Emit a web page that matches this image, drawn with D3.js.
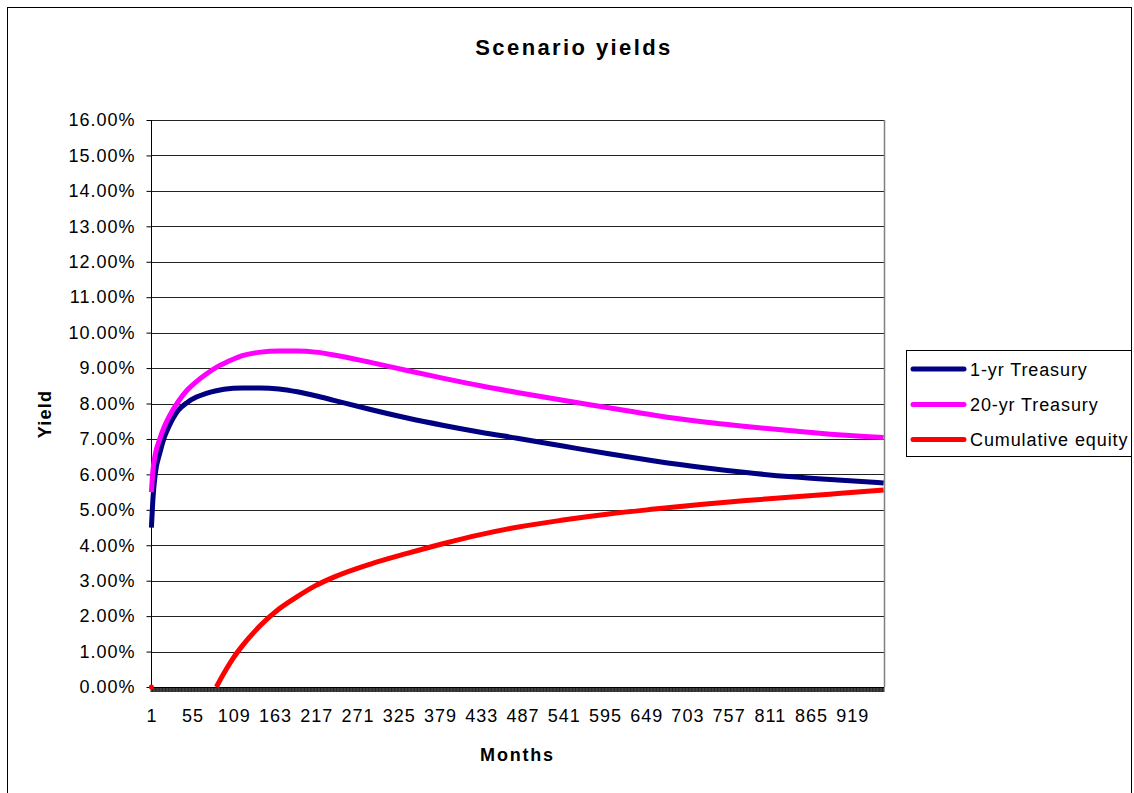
<!DOCTYPE html>
<html>
<head>
<meta charset="utf-8">
<script src="https://cdn.jsdelivr.net/npm/d3@7"></script>
<style>
  html, body { margin: 0; padding: 0; background: #fff; }
  svg { display: block; font-family: "Liberation Sans", Arial, sans-serif; }
</style>
</head>
<body>
<svg id="chart" width="1134" height="793"></svg>
<script>
// Sampled months of the 80-year scenario
const months = [1, 3, 6, 12, 18, 24, 36, 48, 60, 72, 86, 96, 108, 120, 144, 168, 192, 216, 240, 288, 336, 384, 432, 480, 540, 600, 660, 720, 780, 840, 900, 960];

// Yields in percent at each sampled month
const oneYrTreasury = [4.50, 5.30, 6.00, 6.60, 7.05, 7.35, 7.80, 8.03, 8.18, 8.28, 8.36, 8.40, 8.43, 8.44, 8.44, 8.41, 8.33, 8.22, 8.09, 7.83, 7.59, 7.38, 7.19, 7.02, 6.80, 6.58, 6.38, 6.20, 6.05, 5.93, 5.84, 5.76];
const twentyYrTreasury = [5.50, 6.10, 6.55, 7.00, 7.35, 7.62, 8.05, 8.38, 8.62, 8.82, 9.02, 9.13, 9.25, 9.35, 9.45, 9.48, 9.48, 9.45, 9.37, 9.16, 8.93, 8.71, 8.50, 8.31, 8.09, 7.88, 7.67, 7.49, 7.35, 7.23, 7.12, 7.04];
const cumulativeEquity = [0, null, null, null, null, null, null, null, null, null, 0, 0.39, 0.81, 1.16, 1.74, 2.20, 2.55, 2.86, 3.10, 3.47, 3.77, 4.05, 4.30, 4.51, 4.71, 4.88, 5.02, 5.15, 5.26, 5.36, 5.46, 5.56];

const seriesNames = ["1-yr Treasury", "20-yr Treasury", "Cumulative equity"];
const seriesColors = ["#000080", "#FF00FF", "#FF0000"];
const seriesValues = [oneYrTreasury, twentyYrTreasury, cumulativeEquity];

// Axis labels
const monthCount = 960;
const xTickLabels = d3.range(1, monthCount, 54);   // 1, 55, 109 ... 919
const yTicks = d3.range(0, 16.01, 1);

const chartTitle = "Scenario yields";
const xTitle = "Months";
const yTitle = "Yield";

const svg = d3.select("#chart");

// Outer chart frame
svg.append("rect")
  .attr("x", 7.5).attr("y", 7.5)
  .attr("width", 1124).attr("height", 820)
  .attr("fill", "#fff").attr("stroke", "#000").attr("stroke-width", 1);

const plot = { left: 151, right: 884, top: 120, bottom: 687 };

const x = d3.scaleLinear().domain([0.5, monthCount + 0.5]).range([plot.left, plot.right]);
const y = d3.scaleLinear().domain([0, 16]).range([plot.bottom, plot.top]);

// Horizontal gridlines
svg.append("g")
  .selectAll("line")
  .data(yTicks.filter(d => d > 0))
  .join("line")
  .attr("x1", plot.left).attr("x2", plot.right)
  .attr("y1", d => Math.round(y(d)) + 0.5).attr("y2", d => Math.round(y(d)) + 0.5)
  .attr("stroke", "#222").attr("stroke-width", 1);

// Right edge of the plot area
svg.append("line")
  .attr("x1", plot.right + 0.5).attr("x2", plot.right + 0.5)
  .attr("y1", plot.top).attr("y2", plot.bottom)
  .attr("stroke", "#808080").attr("stroke-width", 1.5);

// Y axis
const yAxis = d3.axisLeft(y)
  .tickValues(yTicks)
  .tickSize(5)
  .tickPadding(11)
  .tickFormat(d => d.toFixed(2) + "%");

const yG = svg.append("g")
  .attr("transform", `translate(${plot.left + 0.5},0)`)
  .call(yAxis);
yG.select(".domain").attr("stroke", "#000").attr("d", `M0,${plot.top}V${plot.bottom}`);
yG.selectAll(".tick line").attr("stroke", "#000");
yG.selectAll(".tick text")
  .attr("fill", "#000")
  .style("font-size", "18px")
  .style("letter-spacing", "1px")
  .style("font-family", "'Liberation Sans', Arial, sans-serif");

// Category tick marks along the month axis (one per month boundary)
const boundaries = d3.range(0, monthCount + 1).map(k => k + 0.5);
svg.append("path")
  .attr("d", boundaries.map(b => `M${x(b)},${plot.bottom}V${plot.bottom + 5}`).join(""))
  .attr("stroke", "#000").attr("stroke-width", 0.8).attr("fill", "none");

// X axis line
svg.append("line")
  .attr("x1", plot.left).attr("x2", plot.right)
  .attr("y1", plot.bottom + 0.5).attr("y2", plot.bottom + 0.5)
  .attr("stroke", "#000").attr("stroke-width", 1);

// X tick labels
const xAxis = d3.axisBottom(x).tickValues(xTickLabels).tickSize(0).tickPadding(22);
const xG = svg.append("g").attr("transform", `translate(0,${plot.bottom})`).call(xAxis);
xG.select(".domain").remove();
xG.selectAll(".tick text")
  .attr("fill", "#000")
  .style("font-size", "18px")
  .style("letter-spacing", "1px")
  .style("font-family", "'Liberation Sans', Arial, sans-serif");

// Series lines
const line = d3.line()
  .defined(d => d.v !== null)
  .x(d => x(d.m))
  .y(d => y(d.v))
  .curve(d3.curveMonotoneX);

seriesValues.forEach((vals, i) => {
  const pts = months.map((m, j) => ({ m, v: vals[j] }));
  svg.append("path")
    .datum(pts)
    .attr("d", line)
    .attr("fill", "none")
    .attr("stroke", seriesColors[i])
    .attr("stroke-width", 5)
    .attr("stroke-linejoin", "round")
    .attr("stroke-linecap", "butt");
  // isolated points (no neighbour to join) are drawn as dots
  pts.forEach((p, j) => {
    if (p.v === null) return;
    const prev = j > 0 ? pts[j - 1].v : null;
    const next = j < pts.length - 1 ? pts[j + 1].v : null;
    if (prev === null && next === null) {
      svg.append("circle")
        .attr("cx", x(p.m)).attr("cy", y(p.v)).attr("r", 2.5)
        .attr("fill", seriesColors[i]);
    }
  });
});

// Title
svg.append("text")
  .attr("x", 574).attr("y", 55)
  .attr("text-anchor", "middle")
  .style("font-size", "22px").style("font-weight", "bold")
  .style("letter-spacing", "2.4px")
  .text(chartTitle);

// Axis titles
svg.append("text")
  .attr("x", (plot.left + plot.right) / 2).attr("y", 761)
  .attr("text-anchor", "middle")
  .style("font-size", "18px").style("font-weight", "bold")
  .style("letter-spacing", "1.8px")
  .text(xTitle);

svg.append("text")
  .attr("transform", "translate(51,414) rotate(-90)")
  .attr("text-anchor", "middle")
  .style("font-size", "18px").style("font-weight", "bold")
  .style("letter-spacing", "1.2px")
  .text(yTitle);

// Legend
const legend = svg.append("g");
legend.append("rect")
  .attr("x", 906.5).attr("y", 350.5)
  .attr("width", 225).attr("height", 106)
  .attr("fill", "#fff").attr("stroke", "#000").attr("stroke-width", 1);

const legendRows = [369, 404.5, 439.5];
seriesNames.forEach((name, i) => {
  legend.append("line")
    .attr("x1", 913).attr("x2", 964)
    .attr("y1", legendRows[i]).attr("y2", legendRows[i])
    .attr("stroke", seriesColors[i]).attr("stroke-width", 5)
    .attr("stroke-linecap", "round");
  legend.append("text")
    .attr("x", 970).attr("y", legendRows[i] + 6.5)
    .style("font-size", "18px")
    .style("letter-spacing", "0.9px")
    .text(name);
});
</script>
</body>
</html>
